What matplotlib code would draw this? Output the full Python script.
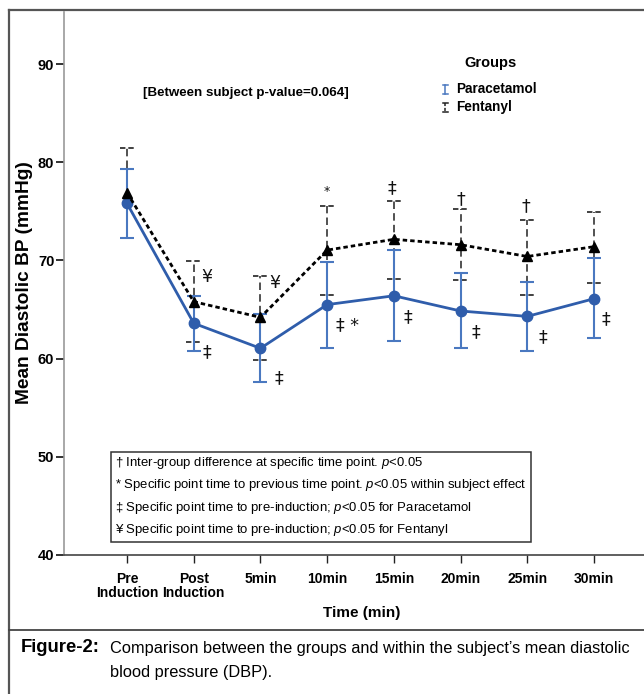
import matplotlib
matplotlib.use("Agg")
import matplotlib.pyplot as plt
from matplotlib.lines import Line2D
from matplotlib.patches import Rectangle
import numpy as np

# ---------------- data ----------------
categories = ["Pre\nInduction", "Post\nInduction", "5min", "10min", "15min", "20min", "25min", "30min"]
para_mean = [75.8, 63.6, 61.05, 65.5, 66.4, 64.85, 64.3, 66.1]
para_upper = [79.3, 66.4, 64.5, 69.8, 71.05, 68.7, 67.8, 70.2]
para_lower = [72.3, 60.8, 57.65, 61.1, 61.8, 61.05, 60.8, 62.1]
fent_mean = [76.9, 65.8, 64.2, 71.05, 72.15, 71.6, 70.4, 71.4]
fent_upper = [81.4, 69.9, 68.4, 75.5, 76.1, 75.2, 74.1, 74.9]
fent_lower = [72.3, 61.7, 59.85, 66.5, 68.1, 68.0, 66.5, 67.7]
yticks = [40, 50, 60, 70, 80, 90]
group_names = ["Paracetamol", "Fentanyl"]
# significance marks: (series, index, symbol)
sig_marks = [
    ("F", 1, "¥"), ("P", 1, "‡"),
    ("F", 2, "¥"), ("P", 2, "‡"),
    ("F", 3, "*"), ("P", 3, "‡ *"),
    ("F", 4, "‡"), ("P", 4, "‡"),
    ("F", 5, "†"), ("P", 5, "‡"),
    ("F", 6, "†"), ("P", 6, "‡"),
    ("P", 7, "‡"),
]
# pixel offsets of the marks relative to their point
sig_offsets = [(13, 25), (13, -29), (14, 34), (18, -30), (0, 59), (20, -21),
               (-2, 51), (14, -21), (0, 46), (15, -21), (-1, 50), (16, -21), (12, -20)]
footnotes = [
    ("† Inter-group difference at specific time point. ", ""),
    ("* Specific point time to previous time point. ", " within subject effect"),
    ("‡ Specific point time to pre-induction; ", " for Paracetamol"),
    ("¥ Specific point time to pre-induction; ", " for Fentanyl"),
]

# ---------------- fonts ----------------
plt.rcParams["font.family"] = ["Liberation Sans", "DejaVu Sans"]
plt.rcParams["mathtext.fontset"] = "custom"
plt.rcParams["mathtext.it"] = "Liberation Sans:italic"
plt.rcParams["mathtext.rm"] = "Liberation Sans"

W, H = 644, 694
fig = plt.figure(figsize=(W / 100, H / 100), dpi=100)


def fx(px):
    return px / W


def fy(py):
    return 1 - py / H


ax = fig.add_axes([fx(64), fy(555), fx(644) - fx(64), fy(12) - fy(555)])
x = np.arange(len(categories))
ax.set_xlim(-0.945, 7.75)
ax.set_ylim(40, 95.3)

blue = "#2f5dab"
blue_err = "#4a78c0"

# Fentanyl error bars (dashed with dashed caps)
fm = np.array(fent_mean)
fu = np.array(fent_upper)
fl = np.array(fent_lower)
ax.vlines(x, fl, fu, colors="#333333", linestyles=(0, (4.5, 2.5)), lw=1.2, zorder=2)
capw = 0.11
ax.hlines(fu, x - capw, x + capw, colors="#333333", linestyles=(0, (3, 1.6)), lw=1.3, zorder=2)
ax.hlines(fl, x - capw, x + capw, colors="#333333", linestyles=(0, (3, 1.6)), lw=1.3, zorder=2)

# Paracetamol error bars
pm = np.array(para_mean)
pu = np.array(para_upper)
pl = np.array(para_lower)
ax.errorbar(x, pm, yerr=[pm - pl, pu - pm], fmt="none", ecolor=blue_err, elinewidth=1.5,
            capsize=5.2, capthick=1.5, zorder=3)

# lines
ax.plot(x, pm, color=blue, lw=2, marker="o", ms=7.5, mfc=blue, mec=blue, zorder=4)
ax.plot(x, fm, color="black", lw=2, linestyle=(0, (1.6, 1.1)), marker="^", ms=7,
        mfc="black", mec="black", zorder=5)

# significance marks
for (s, i, sym), (dx, dy) in zip(sig_marks, sig_offsets):
    yv = fm[i] if s == "F" else pm[i]
    ax.annotate(sym, (x[i], yv), xytext=(dx, dy), textcoords="offset pixels",
                ha="center", va="center", fontsize=12.5 if sym != "*" else 9,
                family=["DejaVu Sans"], color="#111111")

# axes styling
for sp in ["top", "right"]:
    ax.spines[sp].set_visible(False)
ax.spines["left"].set_color("#9a9a9a")
ax.spines["left"].set_linewidth(1.2)
ax.spines["bottom"].set_color("#444444")
ax.spines["bottom"].set_linewidth(1.2)
ax.set_yticks(yticks)
ax.set_yticklabels([str(v) for v in yticks], fontweight="bold", fontsize=10.5)
ax.set_xticks(x)
ax.set_xticklabels(categories, fontweight="bold", fontsize=10, linespacing=1.05)
ax.tick_params(axis="y", length=6, width=1.3, color="#222222", pad=1)
ax.tick_params(axis="x", length=6, width=1.0, color="#222222", pad=6)

fit = []  # (text, target width px or height px, use height)

# axis titles
fig.text(fx(362), fy(613), "Time (min)", ha="center", va="center", fontweight="bold", fontsize=11)
t = fig.text(fx(25), fy(283), "Mean Diastolic BP (mmHg)", ha="center", va="center",
             rotation=90, fontweight="bold", fontsize=12)
fit.append((t, 243, True))

# between-subject text
t = fig.text(fx(143), fy(93), "[Between subject p-value=0.064]", ha="left", va="center",
             fontweight="bold", fontsize=10)
fit.append((t, 207, False))

# groups legend
fig.text(fx(490), fy(63), "Groups", ha="center", va="center", fontweight="bold", fontsize=10.5)
t = fig.text(fx(456), fy(89), group_names[0], ha="left", va="center", fontweight="bold", fontsize=10.5)
fit.append((t, 81, False))
t2 = fig.text(fx(456), fy(107), group_names[1], ha="left", va="center", fontweight="bold", fontsize=10.5)
lx = 445
for (yc, col, ls) in [(89, blue_err, "-"), (107, "#222222", (0, (2, 1.2)))]:
    fig.add_artist(Line2D([fx(lx), fx(lx)], [fy(yc - 4.5), fy(yc + 4.5)], color=col, lw=1.1,
                          linestyle=ls, transform=fig.transFigure))
    for yy in (yc - 4.5, yc + 4.5):
        fig.add_artist(Line2D([fx(lx - 2.5), fx(lx + 2.5)], [fy(yy), fy(yy)], color=col, lw=1.1,
                              transform=fig.transFigure))

# footnote box
fig.add_artist(Rectangle((fx(111), fy(542)), fx(531) - fx(111), fy(452) - fy(542),
                         transform=fig.transFigure, fill=False, ec="#333333", lw=1.1))
line_y = [463, 485, 508, 530]
foot_texts = []
for (a, c), yy in zip(footnotes, line_y):
    txt = a + r"$\it{p}$" + "<0.05" + c
    foot_texts.append(fig.text(fx(115), fy(yy), txt, ha="left", va="center", fontsize=11))

# frame and caption
fig.add_artist(Line2D([fx(9), fx(644)], [fy(10), fy(10)], color="#555555", lw=1.6, transform=fig.transFigure))
fig.add_artist(Line2D([fx(9), fx(9)], [fy(10), fy(694)], color="#555555", lw=1.6, transform=fig.transFigure))
fig.add_artist(Line2D([fx(9), fx(644)], [fy(630), fy(630)], color="#444444", lw=1.3, transform=fig.transFigure))
tf = fig.text(fx(21), fy(648), "Figure-2:", ha="left", va="center", fontweight="bold", fontsize=13)
fit.append((tf, 79, False))
cap1 = fig.text(fx(110), fy(648), "Comparison between the groups and within the subject\u2019s mean diastolic",
                ha="left", va="center", fontsize=13)
cap2 = fig.text(fx(110), fy(673), "blood pressure (DBP).", ha="left", va="center", fontsize=13)

# fit text sizes to the reference extents
fig.canvas.draw()
r = fig.canvas.get_renderer()
for t, target, use_h in fit:
    bb = t.get_window_extent(r)
    cur = bb.height if use_h else bb.width
    t.set_fontsize(t.get_fontsize() * target / cur)
t2.set_fontsize(fit[2][0].get_fontsize())
# footnotes: one size fitted to the longest line
bb = foot_texts[1].get_window_extent(r)
fs = foot_texts[1].get_fontsize() * 412 / bb.width
for t in foot_texts:
    t.set_fontsize(fs)
bb = cap1.get_window_extent(r)
fs = cap1.get_fontsize() * 518 / bb.width
cap1.set_fontsize(fs)
cap2.set_fontsize(fs)

fig.savefig("out.png", dpi=100)
